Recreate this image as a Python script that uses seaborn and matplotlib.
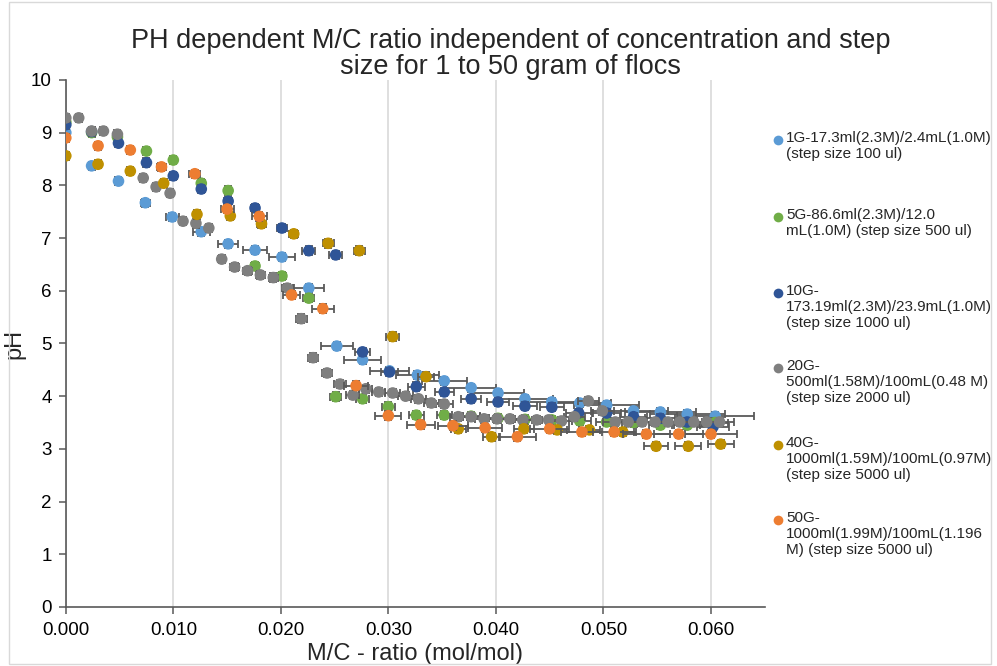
import numpy as np
import pandas as pd
import matplotlib
matplotlib.use("Agg")
import matplotlib.pyplot as plt
from matplotlib.lines import Line2D
from matplotlib.patches import Rectangle
import seaborn as sns

# ---------------- data ----------------
labels = [
    "1G-17.3ml(2.3M)/2.4mL(1.0M)\n(step size 100 ul)",
    "5G-86.6ml(2.3M)/12.0\nmL(1.0M) (step size 500 ul)",
    "10G-\n173.19ml(2.3M)/23.9mL(1.0M)\n(step size 1000 ul)",
    "20G-\n500ml(1.58M)/100mL(0.48 M)\n(step size 2000 ul)",
    "40G-\n1000ml(1.59M)/100mL(0.97M)\n(step size 5000 ul)",
    "50G-\n1000ml(1.99M)/100mL(1.196\nM) (step size 5000 ul)",
]
colors = ["#5B9BD5", "#70AD47", "#2F5597", "#7F7F7F", "#BF9000", "#ED7D31"]

x_1g = [0.0000, 0.0024, 0.0049, 0.0074, 0.0099, 0.0126, 0.0151, 0.0176, 0.0201, 0.0226,
        0.0252, 0.0276, 0.0301, 0.0327, 0.0352, 0.0377, 0.0402, 0.0427, 0.0452, 0.0478,
        0.0503, 0.0528, 0.0553, 0.0578, 0.0604]
y_1g = [9.00, 8.37, 8.08, 7.67, 7.40, 7.12, 6.89, 6.77, 6.64, 6.05,
        4.95, 4.69, 4.48, 4.40, 4.29, 4.16, 4.06, 3.95, 3.89, 3.87,
        3.83, 3.72, 3.70, 3.66, 3.62]
xe_1g = [0.0000, 0.0002, 0.0003, 0.0004, 0.0006, 0.0008, 0.0009, 0.0011, 0.0012, 0.0014,
         0.0015, 0.0017, 0.0018, 0.0020, 0.0021, 0.0023, 0.0024, 0.0026, 0.0027, 0.0029,
         0.0030, 0.0032, 0.0033, 0.0035, 0.0036]

x_5g = [0.0000, 0.0024, 0.0048, 0.0075, 0.0100, 0.0126, 0.0151, 0.0176, 0.0201, 0.0226,
        0.0251, 0.0276, 0.0300, 0.0326, 0.0352, 0.0377, 0.0402, 0.0427, 0.0452, 0.0478,
        0.0503, 0.0528, 0.0553, 0.0578, 0.0604]
y_5g = [9.20, 9.00, 8.92, 8.65, 8.48, 8.04, 7.90, 6.47, 6.28, 5.86,
        3.99, 3.95, 3.80, 3.64, 3.64, 3.62, 3.58, 3.56, 3.55, 3.53,
        3.51, 3.50, 3.45, 3.45, 3.50]
xe_5g = [0.0000, 0.0000, 0.0001, 0.0001, 0.0002, 0.0003, 0.0003, 0.0004, 0.0004, 0.0005,
         0.0005, 0.0006, 0.0006, 0.0007, 0.0007, 0.0008, 0.0008, 0.0009, 0.0009, 0.0010,
         0.0010, 0.0011, 0.0011, 0.0012, 0.0012]

x_10g = [0.0000, 0.0024, 0.0049, 0.0075, 0.0100, 0.0126, 0.0151, 0.0176, 0.0201, 0.0226,
         0.0251, 0.0276, 0.0301, 0.0326, 0.0352, 0.0377, 0.0402, 0.0427, 0.0452, 0.0477,
         0.0503, 0.0528, 0.0553, 0.0578, 0.0602]
y_10g = [9.15, 9.02, 8.80, 8.43, 8.18, 7.93, 7.70, 7.57, 7.19, 6.76,
         6.68, 4.84, 4.46, 4.18, 4.08, 3.95, 3.89, 3.81, 3.79, 3.68,
         3.68, 3.61, 3.58, 3.51, 3.42]
xe_10g = [0.0000, 0.0001, 0.0001, 0.0002, 0.0003, 0.0003, 0.0004, 0.0004, 0.0005, 0.0006,
          0.0006, 0.0007, 0.0008, 0.0008, 0.0009, 0.0009, 0.0010, 0.0011, 0.0011, 0.0012,
          0.0013, 0.0013, 0.0014, 0.0014, 0.0015]

x_20g = [0.0000, 0.0012, 0.0024, 0.0035, 0.0048, 0.0072, 0.0084, 0.0097, 0.0109, 0.0121,
         0.0133, 0.0145, 0.0157, 0.0169, 0.0181, 0.0193, 0.0206, 0.0219, 0.0230, 0.0243,
         0.0255, 0.0267, 0.0279, 0.0291, 0.0304, 0.0316, 0.0328, 0.0340, 0.0352, 0.0365,
         0.0377, 0.0389, 0.0401, 0.0413, 0.0425, 0.0438, 0.0449, 0.0461, 0.0473, 0.0486,
         0.0499, 0.0511, 0.0523, 0.0536, 0.0548, 0.0560, 0.0571, 0.0584, 0.0596, 0.0608]
y_20g = [9.28, 9.28, 9.03, 9.03, 8.97, 8.14, 7.97, 7.85, 7.32, 7.28,
         7.19, 6.60, 6.45, 6.38, 6.30, 6.25, 6.05, 5.47, 4.73, 4.44,
         4.23, 4.02, 4.14, 4.08, 4.06, 4.00, 3.95, 3.87, 3.85, 3.61,
         3.61, 3.57, 3.57, 3.57, 3.55, 3.55, 3.55, 3.53, 3.61, 3.91,
         3.72, 3.51, 3.51, 3.51, 3.51, 3.51, 3.51, 3.51, 3.51, 3.51]
xe_20g = [0.0000, 0.0001, 0.0001, 0.0001, 0.0001, 0.0002, 0.0002, 0.0002, 0.0003, 0.0003,
          0.0003, 0.0003, 0.0004, 0.0004, 0.0004, 0.0004, 0.0005, 0.0005, 0.0005, 0.0005,
          0.0006, 0.0006, 0.0006, 0.0006, 0.0007, 0.0007, 0.0007, 0.0007, 0.0008, 0.0008,
          0.0008, 0.0008, 0.0009, 0.0009, 0.0009, 0.0009, 0.0010, 0.0010, 0.0010, 0.0010,
          0.0011, 0.0011, 0.0011, 0.0011, 0.0012, 0.0012, 0.0012, 0.0012, 0.0013, 0.0013]

x_40g = [0.0000, 0.0030, 0.0060, 0.0091, 0.0122, 0.0153, 0.0182, 0.0212, 0.0244, 0.0273,
         0.0304, 0.0335, 0.0365, 0.0396, 0.0426, 0.0457, 0.0487, 0.0518, 0.0549, 0.0579,
         0.0609]
y_40g = [8.56, 8.40, 8.27, 8.04, 7.45, 7.42, 7.27, 7.08, 6.90, 6.76,
         5.13, 4.37, 3.38, 3.23, 3.38, 3.36, 3.36, 3.32, 3.05, 3.05,
         3.09]
xe_40g = [0.0000, 0.0001, 0.0001, 0.0002, 0.0002, 0.0003, 0.0004, 0.0004, 0.0005, 0.0005,
          0.0006, 0.0007, 0.0007, 0.0008, 0.0009, 0.0009, 0.0010, 0.0010, 0.0011, 0.0012,
          0.0012]

x_50g = [0.0000, 0.0030, 0.0060, 0.0089, 0.0120, 0.0150, 0.0180, 0.0210, 0.0239, 0.0270,
         0.0300, 0.0330, 0.0360, 0.0390, 0.0420, 0.0450, 0.0480, 0.0510, 0.0540, 0.0570,
         0.0600]
y_50g = [8.90, 8.75, 8.67, 8.35, 8.22, 7.55, 7.41, 5.92, 5.66, 4.20,
         3.63, 3.46, 3.44, 3.40, 3.23, 3.38, 3.32, 3.32, 3.28, 3.28,
         3.28]
xe_50g = [0.0000, 0.0001, 0.0002, 0.0004, 0.0005, 0.0006, 0.0007, 0.0008, 0.0010, 0.0011,
          0.0012, 0.0013, 0.0014, 0.0016, 0.0017, 0.0018, 0.0019, 0.0020, 0.0022, 0.0023,
          0.0024]

y_error = 0.08
x_ticks = [0.000, 0.010, 0.020, 0.030, 0.040, 0.050, 0.060]
y_ticks = list(range(0, 11))

series_x = [x_1g, x_5g, x_10g, x_20g, x_40g, x_50g]
series_y = [y_1g, y_5g, y_10g, y_20g, y_40g, y_50g]
series_xe = [xe_1g, xe_5g, xe_10g, xe_20g, xe_40g, xe_50g]

frames = []
for lab, xs, ys, xes in zip(labels, series_x, series_y, series_xe):
    frames.append(pd.DataFrame({"series": lab, "x": xs, "y": ys, "xerr": xes}))
df = pd.concat(frames, ignore_index=True)

# ---------------- plot ----------------
sns.set_theme(style="white")
plt.rcParams["font.family"] = ["Liberation Sans", "DejaVu Sans"]

fig = plt.figure(figsize=(9.97, 6.66), dpi=100)
ax = fig.add_axes([0.066, 0.0886, 0.701, 0.7914])

err_col = "#595959"
for i, lab in enumerate(labels):
    d = df[df["series"] == lab]
    ax.errorbar(d["x"], d["y"], xerr=d["xerr"], yerr=y_error, fmt="none",
                ecolor=err_col, elinewidth=1.3, capsize=3.2, capthick=1.3,
                zorder=2 + 2 * i)
    sns.scatterplot(data=d, x="x", y="y", color=colors[i], s=70,
                    edgecolor="none", linewidth=0, ax=ax, zorder=3 + 2 * i,
                    legend=False)

ax.set_xlim(0, 0.065)
ax.set_ylim(0, 10)
ax.set_xticks(x_ticks)
ax.set_xticklabels([f"{t:.3f}" for t in x_ticks])
ax.set_yticks(y_ticks)
ax.grid(axis="x", color="#D9D9D9", linewidth=1.2)
ax.grid(axis="y", visible=False)
for s in ["top", "right"]:
    ax.spines[s].set_visible(False)
ax.spines["left"].set_color("#595959")
ax.spines["bottom"].set_color("#595959")
ax.spines["left"].set_linewidth(1.2)
ax.spines["bottom"].set_linewidth(1.2)
ax.tick_params(axis="both", which="major", direction="out", length=5, width=1.1,
               color="#595959", labelsize=13.5, labelcolor="#000000",
               bottom=True, left=True)
ax.tick_params(axis="x", pad=6)
ax.tick_params(axis="y", pad=5)
ax.set_xlabel("M/C - ratio (mol/mol)", fontsize=17, labelpad=3)
ax.set_ylabel("pH", fontsize=17, labelpad=4)

fig.text(0.512, 1 - 54 / 666, "PH dependent M/C ratio independent of concentration and step\n"
         "size for 1 to 50 gram of flocs", ha="center", va="center", fontsize=19.5,
         linespacing=1.05)

# legend (manual, Excel-like layout)
leg_y_px = [140, 217, 293, 368, 445, 520]
for lab, c, ypx in zip(labels, colors, leg_y_px):
    yf = 1 - ypx / 666
    fig.add_artist(Line2D([778 / 997], [yf], marker="o", markersize=7,
                          color=c, markeredgewidth=0, linestyle="none",
                          transform=fig.transFigure))
    fig.text(786 / 997, yf + 9 / 666, lab, ha="left", va="top", fontsize=11,
             linespacing=1.18)

fig.add_artist(Rectangle((9 / 997, 0.003), 0.985, 0.994, transform=fig.transFigure,
                         fill=False, edgecolor="#D9D9D9", linewidth=1))

fig.savefig("out.png", dpi=100)
